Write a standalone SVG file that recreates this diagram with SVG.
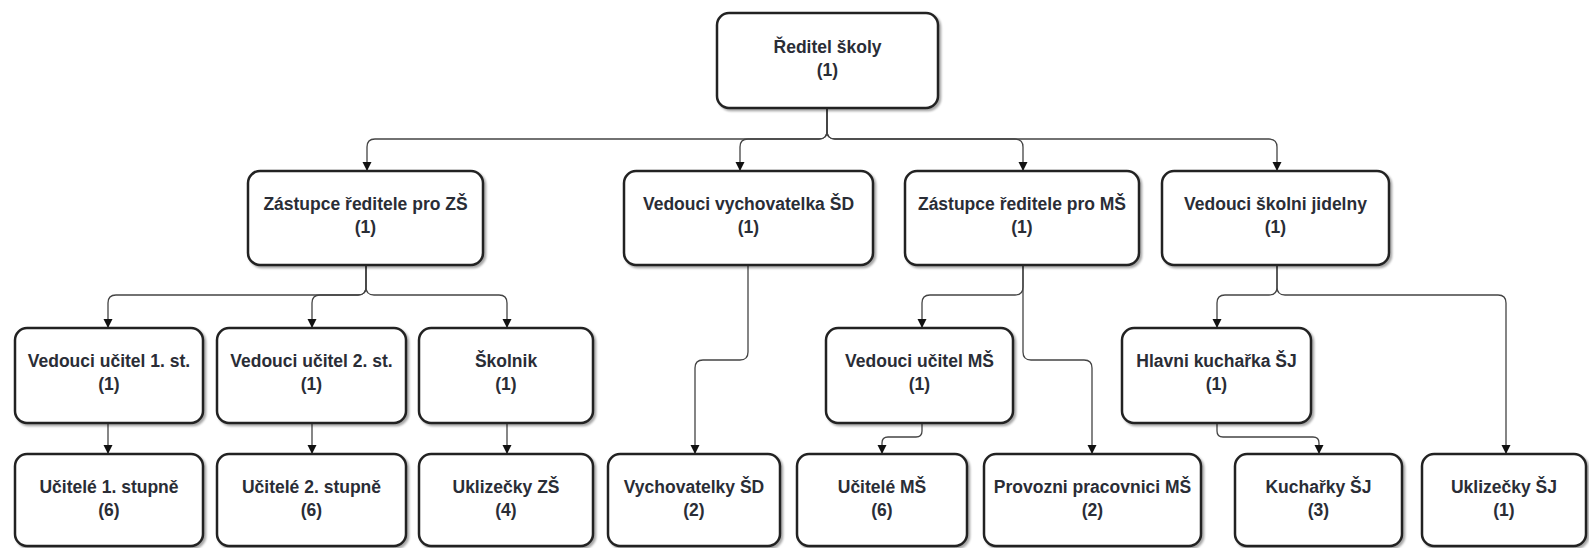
<svg xmlns="http://www.w3.org/2000/svg" width="1589" height="548" viewBox="0 0 1589 548">
<defs>
<filter id="sh" x="-10%" y="-10%" width="130%" height="130%">
<feDropShadow dx="2" dy="2" stdDeviation="1.2" flood-color="#000" flood-opacity="0.35"/>
</filter>
<marker id="arr" markerUnits="userSpaceOnUse" markerWidth="10" markerHeight="10" refX="9" refY="4.5" orient="auto">
<path d="M0,0 L9,4.5 L0,9 z" fill="#111"/>
</marker>
</defs>
<style>
.box{fill:#fff;stroke:#222;stroke-width:2.5;filter:url(#sh)}
.t{font-family:"Liberation Sans",Arial,sans-serif;font-weight:bold;font-size:17.5px;fill:#2a2d36;text-anchor:middle}
.e{fill:none;stroke:#444;stroke-width:1.3;marker-end:url(#arr)}
</style>
<rect width="1589" height="548" fill="#fff"/>
<g id="connectors">
<path class="e" d="M827,108 V131 Q827,139 819,139 H375 Q367,139 367,147 V171"/>
<path class="e" d="M827,108 V131 Q827,139 819,139 H748 Q740,139 740,147 V171"/>
<path class="e" d="M827,108 V131 Q827,139 835,139 H1015 Q1023,139 1023,147 V171"/>
<path class="e" d="M827,108 V131 Q827,139 835,139 H1269 Q1277,139 1277,147 V171"/>
<path class="e" d="M366,265 V287 Q366,295 358,295 H116 Q108,295 108,303 V328"/>
<path class="e" d="M366,265 V287 Q366,295 358,295 H320 Q312,295 312,303 V328"/>
<path class="e" d="M366,265 V287 Q366,295 374,295 H499 Q507,295 507,303 V328"/>
<path class="e" d="M108,423 V454"/>
<path class="e" d="M312,423 V454"/>
<path class="e" d="M507,423 V454"/>
<path class="e" d="M748,265 V352 Q748,360 740,360 H703 Q695,360 695,368 V454"/>
<path class="e" d="M1023,265 V287 Q1023,295 1015,295 H930 Q922,295 922,303 V328"/>
<path class="e" d="M1023,265 V352 Q1023,360 1031,360 H1084 Q1092,360 1092,368 V454"/>
<path class="e" d="M922,423 V431 Q922,437 916,437 H888 Q882,437 882,443 V454"/>
<path class="e" d="M1277,265 V287 Q1277,295 1269,295 H1225 Q1217,295 1217,303 V328"/>
<path class="e" d="M1277,265 V287 Q1277,295 1285,295 H1498 Q1506,295 1506,303 V454"/>
<path class="e" d="M1217,423 V431 Q1217,437 1223,437 H1313 Q1319,437 1319,443 V454"/>
</g>
<g id="n-reditel"><rect class="box" x="717" y="13" width="221" height="95" rx="12"/><text class="t" x="827.5" y="53">Ředitel školy</text><text class="t" x="827.5" y="76">(1)</text></g>
<g id="n-zast-zs"><rect class="box" x="248" y="171" width="235" height="94" rx="12"/><text class="t" x="365.5" y="210">Zástupce ředitele pro ZŠ</text><text class="t" x="365.5" y="233">(1)</text></g>
<g id="n-ved-vych"><rect class="box" x="624" y="171" width="249" height="94" rx="12"/><text class="t" x="748.5" y="210">Vedouci vychovatelka ŠD</text><text class="t" x="748.5" y="233">(1)</text></g>
<g id="n-zast-ms"><rect class="box" x="905" y="171" width="234" height="94" rx="12"/><text class="t" x="1022" y="210">Zástupce ředitele pro MŠ</text><text class="t" x="1022" y="233">(1)</text></g>
<g id="n-ved-sj"><rect class="box" x="1162" y="171" width="227" height="94" rx="12"/><text class="t" x="1275.5" y="210">Vedouci školni jidelny</text><text class="t" x="1275.5" y="233">(1)</text></g>
<g id="n-ved-uc1"><rect class="box" x="15" y="328" width="188" height="95" rx="12"/><text class="t" x="109" y="367">Vedouci učitel 1. st.</text><text class="t" x="109" y="390">(1)</text></g>
<g id="n-ved-uc2"><rect class="box" x="217" y="328" width="189" height="95" rx="12"/><text class="t" x="311.5" y="367">Vedouci učitel 2. st.</text><text class="t" x="311.5" y="390">(1)</text></g>
<g id="n-skolnik"><rect class="box" x="419" y="328" width="174" height="95" rx="12"/><text class="t" x="506" y="367">Školnik</text><text class="t" x="506" y="390">(1)</text></g>
<g id="n-ved-ucms"><rect class="box" x="826" y="328" width="187" height="95" rx="12"/><text class="t" x="919.5" y="367">Vedouci učitel MŠ</text><text class="t" x="919.5" y="390">(1)</text></g>
<g id="n-hlav-kuch"><rect class="box" x="1122" y="328" width="189" height="95" rx="12"/><text class="t" x="1216.5" y="367">Hlavni kuchařka ŠJ</text><text class="t" x="1216.5" y="390">(1)</text></g>
<g id="n-uc1"><rect class="box" x="15" y="454" width="188" height="92" rx="12"/><text class="t" x="109" y="493">Učitelé 1. stupně</text><text class="t" x="109" y="516">(6)</text></g>
<g id="n-uc2"><rect class="box" x="217" y="454" width="189" height="92" rx="12"/><text class="t" x="311.5" y="493">Učitelé 2. stupně</text><text class="t" x="311.5" y="516">(6)</text></g>
<g id="n-ukl-zs"><rect class="box" x="419" y="454" width="174" height="92" rx="12"/><text class="t" x="506" y="493">Uklizečky ZŠ</text><text class="t" x="506" y="516">(4)</text></g>
<g id="n-vych"><rect class="box" x="608" y="454" width="172" height="92" rx="12"/><text class="t" x="694" y="493">Vychovatelky ŠD</text><text class="t" x="694" y="516">(2)</text></g>
<g id="n-ucms"><rect class="box" x="797" y="454" width="170" height="92" rx="12"/><text class="t" x="882" y="493">Učitelé MŠ</text><text class="t" x="882" y="516">(6)</text></g>
<g id="n-prov"><rect class="box" x="984" y="454" width="217" height="92" rx="12"/><text class="t" x="1092.5" y="493">Provozni pracovnici MŠ</text><text class="t" x="1092.5" y="516">(2)</text></g>
<g id="n-kuch"><rect class="box" x="1235" y="454" width="167" height="92" rx="12"/><text class="t" x="1318.5" y="493">Kuchařky ŠJ</text><text class="t" x="1318.5" y="516">(3)</text></g>
<g id="n-ukl-sj"><rect class="box" x="1422" y="454" width="164" height="92" rx="12"/><text class="t" x="1504" y="493">Uklizečky ŠJ</text><text class="t" x="1504" y="516">(1)</text></g>
</svg>
